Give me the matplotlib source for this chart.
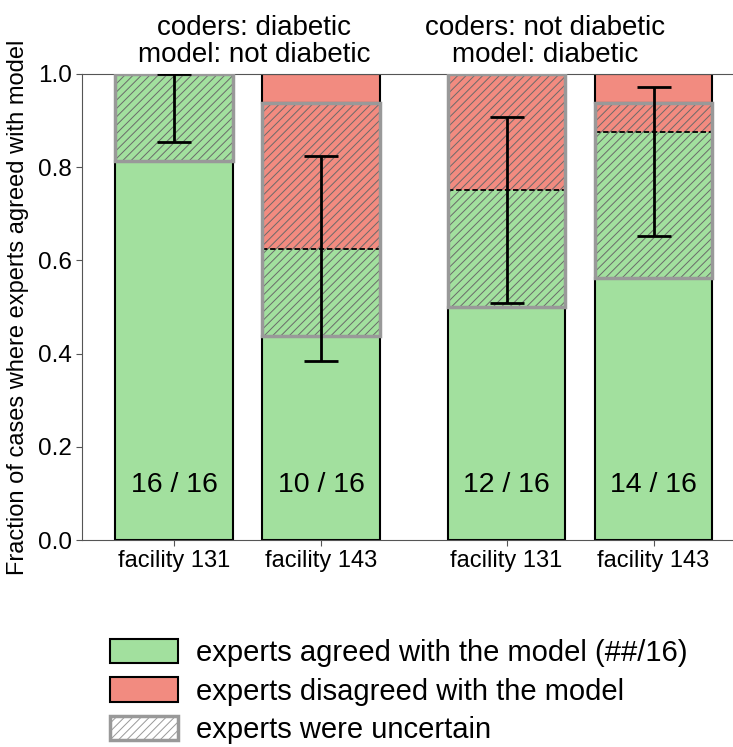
import numpy as np
import matplotlib.pyplot as plt
from matplotlib.patches import Patch

plt.rcParams['font.family'] = ['Liberation Sans', 'DejaVu Sans']
plt.rcParams['hatch.linewidth'] = 0.7

# counts out of 16 cases per bar
n_total = 16
facilities = ['facility 131', 'facility 143', 'facility 131', 'facility 143']
group_titles = ['coders: diabetic\nmodel: not diabetic',
                'coders: not diabetic\nmodel: diabetic']
agree_sure = [13, 7, 8, 9]
agree_unsure = [3, 3, 4, 5]
disagree_unsure = [0, 5, 4, 1]
disagree_sure = [0, 1, 0, 1]
ci_low = [0.855, 0.384, 0.509, 0.653]
ci_high = [1.0, 0.823, 0.907, 0.971]

GREEN = '#a2e09e'
RED = '#f28b80'
GRAY = '#999999'

x = np.array([0, 1, 2.26, 3.26])
w = 0.8

a1 = np.array(agree_sure) / n_total
a2 = np.array(agree_unsure) / n_total
a3 = np.array(disagree_unsure) / n_total
a4 = np.array(disagree_sure) / n_total
agree_tot = np.array(agree_sure) + np.array(agree_unsure)

fig = plt.figure(figsize=(7.33, 7.47), dpi=100)
ax = fig.add_axes([0.112, 0.277, 0.888, 0.624])

# solid parts
ax.bar(x, a1, w, color=GREEN, edgecolor='k', linewidth=1.5, zorder=2)
ax.bar(x, a4, w, bottom=a1 + a2 + a3, color=RED, edgecolor='k', linewidth=1.5, zorder=2)

# uncertain parts
ax.bar(x, a2, w, bottom=a1, color=GREEN, linewidth=0, zorder=2)
ax.bar(x, a3, w, bottom=a1 + a2, color=RED, linewidth=0, zorder=2)
ax.bar(x, a2 + a3, w, bottom=a1, facecolor='none', edgecolor='#6a6a6a',
       hatch='////', linewidth=0, zorder=3)
has_split = a3 > 0
ax.hlines((a1 + a2)[has_split], (x - w / 2)[has_split], (x + w / 2)[has_split],
          colors='k', linestyles=(0, (3, 1.5)), linewidth=1.3, zorder=4)
ax.bar(x, a2 + a3, w, bottom=a1, facecolor='none', edgecolor=GRAY,
       linewidth=2.5, zorder=5)

ax.errorbar(x, agree_tot / n_total,
            yerr=[agree_tot / n_total - np.array(ci_low), np.array(ci_high) - agree_tot / n_total],
            fmt='none', ecolor='k', elinewidth=2, capsize=12, capthick=2, zorder=6)

for xi, n in zip(x, agree_tot):
    ax.text(xi, 0.118, f'{n} / {n_total}', ha='center', va='center', fontsize=20.5, zorder=7)

for xc, t in zip([0.544, 2.52], group_titles):
    ax.text(xc, 1.012, t, ha='center', va='bottom', fontsize=20, linespacing=1.08,
            transform=ax.get_xaxis_transform())

ax.set_xlim(-0.626, 3.80)
ax.set_ylim(0, 1.0)
ax.set_xticks(x)
ax.set_xticklabels(facilities, fontsize=17)
ax.set_yticks(np.arange(0, 1.01, 0.2))
ax.set_yticklabels([f'{v:.1f}' for v in np.arange(0, 1.01, 0.2)], fontsize=17.5)
ax.tick_params(axis='both', length=4, color='#555555')
ax.set_ylabel('Fraction of cases where experts agreed with model', fontsize=17, labelpad=6)
ax.spines['right'].set_visible(False)
for s in ['left', 'bottom', 'top']:
    ax.spines[s].set_color('#555555')

handles = [
    Patch(facecolor=GREEN, edgecolor='k', linewidth=1.5),
    Patch(facecolor=RED, edgecolor='k', linewidth=1.5),
    Patch(facecolor='white', edgecolor=GRAY, hatch='////', linewidth=2.5),
]
labels = ['experts agreed with the model (##/16)',
          'experts disagreed with the model',
          'experts were uncertain']
fig.legend(handles, labels, loc='upper left', bbox_to_anchor=(0.15, 0.145),
           frameon=False, fontsize=21, handlelength=2.35, handleheight=0.9,
           handletextpad=0.6, labelspacing=0.36, borderpad=0, borderaxespad=0)

fig.savefig('out.png', dpi=100)
